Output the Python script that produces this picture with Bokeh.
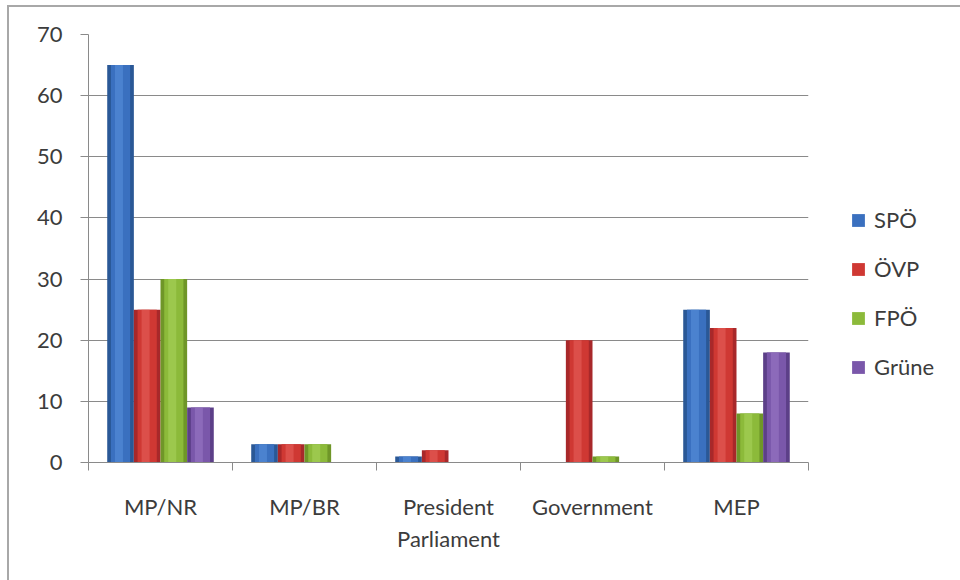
from bokeh.plotting import figure
from bokeh.models import (ColumnDataSource, Range1d, FixedTicker, Legend, LegendItem)
from bokeh.transform import dodge
from bokeh.embed import file_html
from bokeh.resources import INLINE

# Offices held, by party
categories = ["MP/NR", "MP/BR", "President\nParliament", "Government", "MEP"]
parties = ["SPÖ", "ÖVP", "FPÖ", "Grüne"]
spoe = [65, 3, 1, 0, 25]
oevp = [25, 3, 2, 20, 22]
fpoe = [30, 3, 0, 1, 8]
gruene = [9, 0, 0, 0, 18]
y_ticks = [0, 10, 20, 30, 40, 50, 60, 70]

series = [spoe, oevp, fpoe, gruene]
# dark edge, body, highlight for each party's bars
palettes = [
    ("#2a5896", "#3a70bf", "#5a92dc"),
    ("#a8282a", "#cf3833", "#e8625c"),
    ("#6f9628", "#8cba3a", "#aad45c"),
    ("#5c3f88", "#7a57aa", "#9a7ac6"),
]

FONT = "Lato"
TEXT = "#3c3c3c"
AXIS = "#8a8a8a"

centers = [i + 0.5 for i in range(len(categories))]
bounds = [float(i) for i in range(len(categories) + 1)]

p = figure(
    frame_width=720, frame_height=428,
    min_border_left=79, min_border_right=152,
    min_border_top=27, min_border_bottom=118,
    x_range=Range1d(0, len(categories)), y_range=Range1d(y_ticks[0], y_ticks[-1]),
    output_backend="svg", toolbar_location=None,
    background_fill_color="white", border_fill_color="white",
)
p.styles = {
    "margin-left": "7px", "margin-top": "5px",
    "border-left": "2px solid #a8a8a8", "border-top": "2px solid #a8a8a8",
}
p.outline_line_color = None
p.xgrid.visible = False
p.ygrid.ticker = FixedTicker(ticks=y_ticks)
p.ygrid.grid_line_color = AXIS
p.ygrid.grid_line_width = 1

bar_w = 0.185
items = []
for k, (name, vals, (dark, body, light)) in enumerate(zip(parties, series, palettes)):
    src = ColumnDataSource(dict(x=centers, top=vals))
    off = (k - 1.5) * bar_w
    xs = dodge("x", off, range=p.x_range)
    p.vbar(x=xs, top="top", bottom=0, width=bar_w, source=src,
           fill_color=dark, line_color=None)
    r = p.vbar(x=xs, top="top", bottom=0, width=bar_w * 0.72, source=src,
               fill_color=body, line_color=None)
    p.vbar(x=dodge("x", off - bar_w * 0.06, range=p.x_range), top="top", bottom=0,
           width=bar_w * 0.3, source=src, fill_color=light, fill_alpha=0.55,
           line_color=None)
    items.append(LegendItem(label=name, renderers=[r]))

# x axis: labels under each group, tick marks between groups
xa = p.xaxis[0]
xa.ticker = FixedTicker(ticks=centers, minor_ticks=bounds)
xa.major_label_overrides = {c: lab for c, lab in zip(centers, categories)}
xa.major_tick_out = 0
xa.major_tick_in = 0
xa.minor_tick_out = 8
xa.minor_tick_in = 0
xa.minor_tick_line_color = AXIS
xa.axis_line_color = AXIS
xa.major_label_standoff = 22
xa.major_label_text_font = FONT
xa.major_label_text_font_size = "22px"
xa.major_label_text_color = TEXT
xa.major_label_text_line_height = 1.2

ya = p.yaxis[0]
ya.ticker = FixedTicker(ticks=y_ticks)
ya.major_tick_out = 8
ya.major_tick_in = 0
ya.minor_tick_line_color = None
ya.major_tick_line_color = AXIS
ya.axis_line_color = AXIS
ya.major_label_standoff = 18
ya.major_label_text_font = FONT
ya.major_label_text_font_size = "22px"
ya.major_label_text_color = TEXT

legend = Legend(
    items=items, location=(42, 82), orientation="vertical",
    border_line_color=None, background_fill_alpha=0,
    padding=0, margin=0, glyph_width=16, glyph_height=16,
    label_height=26, spacing=22, label_standoff=8,
    label_text_font=FONT, label_text_font_size="22px", label_text_color=TEXT,
)
p.add_layout(legend, "right")

open("out.html", "w").write(file_html(p, INLINE))
